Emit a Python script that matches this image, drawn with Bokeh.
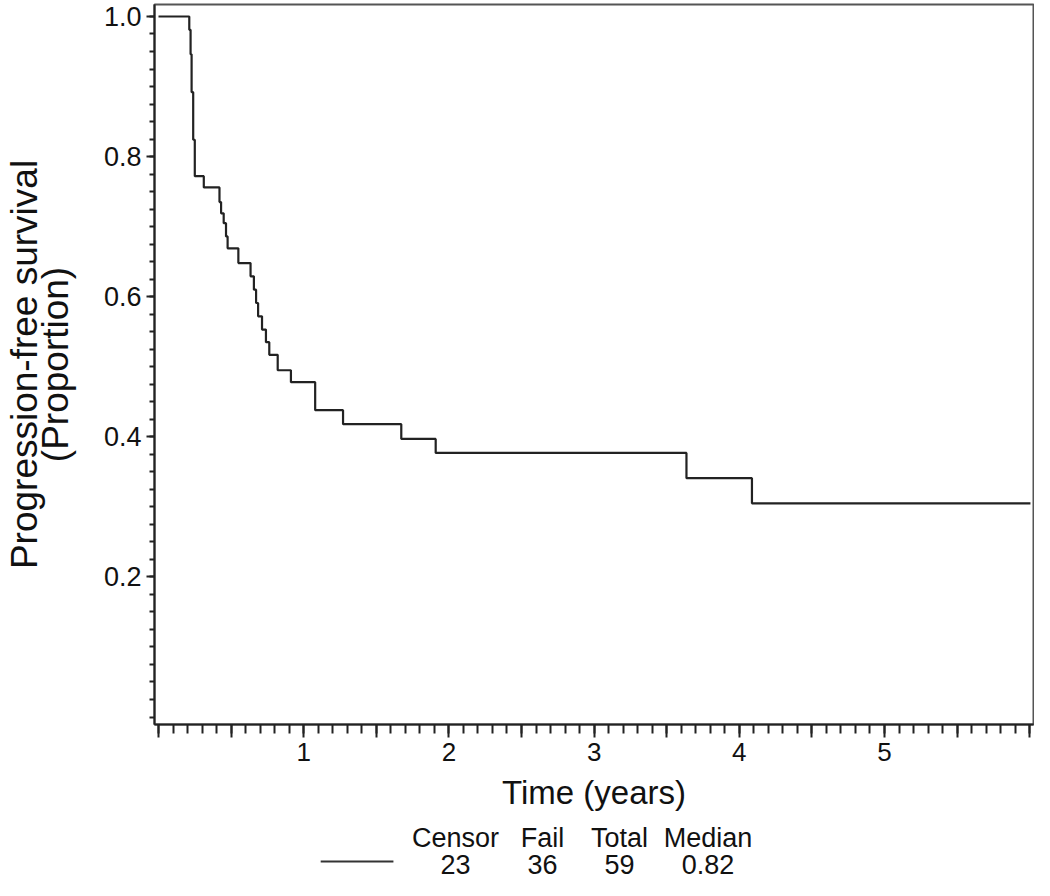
from bokeh.plotting import figure
from bokeh.models import Range1d, FixedTicker, CustomJSTickFormatter, ColumnDataSource
from bokeh.layouts import column
from bokeh.embed import file_html
from bokeh.resources import INLINE
from bokeh.core.properties import value

# ---------------- data ----------------
event_times = [0.0, 0.212, 0.221, 0.228, 0.239, 0.250, 0.312, 0.420, 0.431, 0.449,
               0.465, 0.476, 0.550, 0.634, 0.657, 0.672, 0.686, 0.713, 0.740, 0.763,
               0.821, 0.912, 1.079, 1.271, 1.672, 1.909, 3.636, 4.087]
survival = [1.000, 0.981, 0.946, 0.892, 0.824, 0.772, 0.756, 0.735, 0.719, 0.705,
            0.686, 0.669, 0.648, 0.629, 0.610, 0.591, 0.572, 0.553, 0.535, 0.517,
            0.495, 0.478, 0.438, 0.418, 0.397, 0.377, 0.341, 0.305]
followup_end = 6.005

x_labeled_ticks = [1, 2, 3, 4, 5]
x_major_ticks = [i * 0.5 for i in range(13)]
x_minor_ticks = [i / 10 for i in range(61)]
y_major_ticks = [0.2, 0.4, 0.6, 0.8, 1.0]
y_minor_ticks = [i * 0.025 for i in range(41)]

legend_headers = ["Censor", "Fail", "Total", "Median"]
legend_values = ["23", "36", "59", "0.82"]

# ---------------- layout / style ----------------
FONT = "Liberation Sans"
INK = "#111111"
W = 1034
X_RANGE = (-0.0275, 6.026)
LEFT, RIGHT = 154, 1
legend_col_x = [2.045, 2.645, 3.175, 3.785]   # column centres (axis units)
legend_sample_x = [1.117, 1.618]
legend_header_row, legend_value_row, legend_sample_row = 43, 16, 19

# ---------------- main plot ----------------
p = figure(width=W, height=820,
           x_range=Range1d(*X_RANGE), y_range=Range1d(-0.0107, 1.0171),
           output_backend="svg", toolbar_location=None,
           min_border_left=LEFT, min_border_right=RIGHT, min_border_top=4, min_border_bottom=96)
p.grid.visible = False
p.background_fill_color = "white"
p.border_fill_color = "white"
p.outline_line_color = "#555555"
p.outline_line_width = 2

xs = event_times + [followup_end]
ys = survival + [survival[-1]]
src = ColumnDataSource(dict(t=xs, s=ys))
p.step("t", "s", source=src, mode="after", line_color="#222222", line_width=2.2)

# x axis
xa = p.xaxis[0]
xa.ticker = FixedTicker(ticks=x_major_ticks, minor_ticks=x_minor_ticks)
xa.formatter = CustomJSTickFormatter(args=dict(shown=x_labeled_ticks),
                                     code="return shown.includes(tick) ? String(tick) : '';")
xa.axis_label = "Time (years)"
xa.axis_label_text_font = FONT
xa.axis_label_text_font_size = "33px"
xa.axis_label_text_font_style = "normal"
xa.axis_label_text_color = INK
xa.axis_label_standoff = 10
xa.major_label_text_font = FONT
xa.major_label_text_font_size = "26px"
xa.major_label_text_color = INK
xa.major_label_standoff = 5
xa.major_tick_out = 13
xa.major_tick_in = 0
xa.minor_tick_out = 9
xa.minor_tick_in = 0
xa.axis_line_width = 2
xa.axis_line_color = "#222222"
xa.major_tick_line_width = 2
xa.minor_tick_line_width = 2
xa.major_tick_line_color = "#222222"
xa.minor_tick_line_color = "#222222"

# y axis
ya = p.yaxis[0]
ya.ticker = FixedTicker(ticks=y_major_ticks, minor_ticks=y_minor_ticks)
ya.formatter = CustomJSTickFormatter(code="return tick.toFixed(1);")
ya.axis_label = "Progression-free survival\n(Proportion)"
ya.axis_label_text_font = FONT
ya.axis_label_text_font_size = "37px"
ya.axis_label_text_font_style = "normal"
ya.axis_label_text_color = INK
ya.axis_label_text_line_height = 0.75
ya.axis_label_standoff = 25
ya.major_label_text_font = FONT
ya.major_label_text_font_size = "27px"
ya.major_label_text_color = INK
ya.major_label_standoff = 5
ya.major_tick_out = 8
ya.major_tick_in = 0
ya.minor_tick_out = 5
ya.minor_tick_in = 0
ya.axis_line_width = 2
ya.axis_line_color = "#222222"
ya.major_tick_line_width = 2
ya.minor_tick_line_width = 2
ya.major_tick_line_color = "#222222"
ya.minor_tick_line_color = "#222222"

# ---------------- legend table (its frame lines up with the plot's frame) ----------------
q = figure(width=W, height=60, x_range=Range1d(*X_RANGE), y_range=Range1d(0, 60),
           output_backend="svg", toolbar_location=None, title=None,
           x_axis_location=None, y_axis_location=None,
           min_border_left=LEFT, min_border_right=RIGHT, min_border_top=0, min_border_bottom=0)
q.grid.visible = False
q.outline_line_color = None

hdr = ColumnDataSource(dict(x=legend_col_x, y=[legend_header_row] * 4, text=legend_headers))
val = ColumnDataSource(dict(x=legend_col_x, y=[legend_value_row] * 4, text=legend_values))
q.text("x", "y", text="text", source=hdr, text_align="center", text_baseline="alphabetic",
       text_font=value(FONT), text_font_size="27px", text_color=INK)
q.text("x", "y", text="text", source=val, text_align="center", text_baseline="alphabetic",
       text_font=value(FONT), text_font_size="27px", text_color=INK)
q.line(x=legend_sample_x, y=[legend_sample_row] * 2, line_color="#333333", line_width=2)

layout = column(p, q, spacing=0)
open("out.html", "w").write(file_html(layout, INLINE))
